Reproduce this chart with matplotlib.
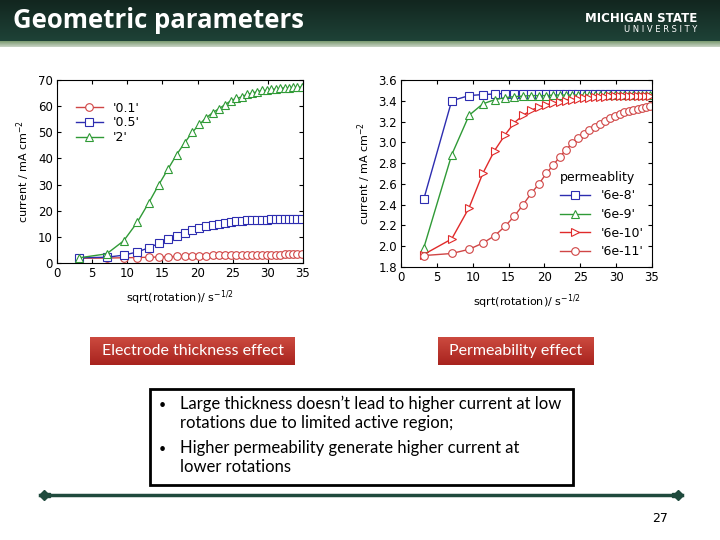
import matplotlib.pyplot as plt
import numpy as np
from matplotlib.patches import Rectangle
from matplotlib.colors import LinearSegmentedColormap

# sqrt(rotation) sample positions
x_pts = [3.16, 7.07, 9.49, 11.40, 13.04, 14.49, 15.81, 17.03, 18.17, 19.24,
         20.25, 21.21, 22.14, 23.02, 23.87, 24.70, 25.50, 26.27, 27.02, 27.75,
         28.46, 29.15, 29.83, 30.50, 31.14, 31.78, 32.40, 33.02, 33.62, 34.21, 34.79]

# electrode thickness series (mA cm^-2)
thick_labels = ["'0.1'", "'0.5'", "'2'"]
thick_01 = [1.8, 1.9, 2.0, 2.1, 2.2, 2.3, 2.4, 2.5, 2.6, 2.7,
            2.8, 2.85, 2.9, 2.95, 3.0, 3.05, 3.1, 3.1, 3.15, 3.15,
            3.2, 3.2, 3.2, 3.25, 3.25, 3.25, 3.3, 3.3, 3.3, 3.3, 3.3]
thick_05 = [2.0, 2.2, 3.0, 4.2, 5.8, 7.5, 9.0, 10.3, 11.5, 12.5,
            13.3, 14.0, 14.5, 15.0, 15.4, 15.7, 16.0, 16.2, 16.3, 16.4,
            16.5, 16.6, 16.6, 16.7, 16.7, 16.7, 16.8, 16.8, 16.8, 16.8, 16.8]
thick_2 = [2.0, 3.5, 8.5, 15.5, 23.0, 30.0, 36.0, 41.5, 46.0, 50.0,
           53.0, 55.5, 57.5, 59.0, 60.5, 62.0, 63.0, 63.5, 64.5, 65.0,
           65.5, 66.0, 66.0, 66.5, 66.5, 66.8, 67.0, 67.0, 67.2, 67.3, 67.3]

# permeability series (mA cm^-2)
perm_labels = ["'6e-8'", "'6e-9'", "'6e-10'", "'6e-11'"]
perm_6e8 = [2.45, 3.40, 3.45, 3.46, 3.465, 3.47, 3.47, 3.47, 3.47, 3.47,
            3.47, 3.47, 3.47, 3.47, 3.47, 3.47, 3.47, 3.47, 3.47, 3.47,
            3.47, 3.47, 3.47, 3.47, 3.47, 3.47, 3.47, 3.47, 3.47, 3.47, 3.47]
perm_6e9 = [1.98, 2.88, 3.26, 3.37, 3.41, 3.43, 3.44, 3.445, 3.45, 3.45,
            3.45, 3.455, 3.455, 3.455, 3.455, 3.455, 3.455, 3.455, 3.455, 3.455,
            3.455, 3.455, 3.455, 3.455, 3.455, 3.455, 3.455, 3.455, 3.455, 3.455, 3.455]
perm_6e10 = [1.92, 2.07, 2.37, 2.70, 2.92, 3.07, 3.19, 3.26, 3.31, 3.34,
             3.36, 3.38, 3.39, 3.40, 3.41, 3.42, 3.425, 3.43, 3.435, 3.44,
             3.44, 3.445, 3.445, 3.445, 3.45, 3.45, 3.45, 3.45, 3.45, 3.45, 3.45]
perm_6e11 = [1.91, 1.93, 1.97, 2.03, 2.10, 2.19, 2.29, 2.40, 2.51, 2.60,
             2.70, 2.78, 2.86, 2.93, 2.99, 3.04, 3.08, 3.12, 3.15, 3.18,
             3.21, 3.23, 3.25, 3.27, 3.29, 3.30, 3.31, 3.32, 3.33, 3.34, 3.35]

title = "Geometric parameters"
box_left = "Electrode thickness effect"
box_right = "Permeability effect"
bullets = ["Large thickness doesn\u2019t lead to higher current at low\nrotations due to limited active region;",
           "Higher permeability generate higher current at\nlower rotations"]

W, H = 720, 540
fig = plt.figure(figsize=(7.2, 5.4), dpi=100)
fig.patch.set_facecolor('white')


def px(x0, y0, x1, y1):
    # pixel box (top-left origin) -> figure fraction rect
    return [x0 / W, 1 - y1 / H, (x1 - x0) / W, (y1 - y0) / H]


def grad_axes(rect, c0, c1):
    a = fig.add_axes(rect)
    a.imshow(np.linspace(0, 1, 50).reshape(-1, 1), aspect='auto',
             cmap=LinearSegmentedColormap.from_list('g', [c0, c1]), extent=[0, 1, 0, 1])
    a.set_xticks([])
    a.set_yticks([])
    for s in a.spines.values():
        s.set_visible(False)
    return a


# header band
grad_axes(px(0, 0, 720, 41), '#12261f', '#1e4237')
grad_axes(px(0, 41, 720, 47), '#7a9a70', '#c9d4c6')
fig.text(13 / W, 1 - 21 / H, title, color='white', fontsize=18.5, fontweight='bold',
         family='Open Sans', va='center', ha='left')
fig.text(697 / W, 1 - 18 / H, "MICHIGAN STATE", color='white', fontsize=8.5, fontweight='bold',
         family='Liberation Sans Narrow', va='center', ha='right')
fig.text(697 / W, 1 - 30 / H, "U N I V E R S I T Y", color='white', fontsize=6,
         family='DejaVu Sans', va='center', ha='right')


def style_axes(ax):
    ax.tick_params(direction='in', top=True, right=True, length=3, width=0.8,
                   labelsize=8.5, pad=3)
    for s in ax.spines.values():
        s.set_linewidth(0.8)
    ax.set_xlim(0, 35)
    ax.set_xticks([0, 5, 10, 15, 20, 25, 30, 35])
    ax.set_xlabel("sqrt(rotation)/ s$^{-1/2}$", fontsize=8, labelpad=6)
    ax.set_ylabel("current / mA cm$^{-2}$", fontsize=8, labelpad=4)


red = '#d04545'
blue = '#2d2db0'
green = '#2f9a36'
mk = dict(markerfacecolor='white', markersize=5.5, markeredgewidth=0.8, linewidth=1)

ax1 = fig.add_axes(px(57, 80, 303, 263))
ax1.plot(x_pts, thick_01, '-o', color=red, label=thick_labels[0], **mk)
ax1.plot(x_pts, thick_05, '-s', color=blue, label=thick_labels[1], **mk)
ax1.plot(x_pts, thick_2, '-^', color=green, label=thick_labels[2], **mk)
ax1.set_ylim(0, 70)
ax1.set_yticks(range(0, 71, 10))
style_axes(ax1)
ax1.legend(loc='upper left', bbox_to_anchor=(0.04, 0.93), frameon=False, fontsize=9,
           handlelength=2.2, labelspacing=0.15, borderpad=0.2)

ax2 = fig.add_axes(px(401, 80, 652, 267))
ax2.plot(x_pts, perm_6e8, '-s', color=blue, label=perm_labels[0], **mk)
ax2.plot(x_pts, perm_6e9, '-^', color=green, label=perm_labels[1], **mk)
ax2.plot(x_pts, perm_6e10, '->', color='#e02a2a', label=perm_labels[2], **mk)
ax2.plot(x_pts, perm_6e11, '-o', color=red, label=perm_labels[3], **mk)
ax2.set_ylim(1.8, 3.6)
ax2.set_yticks(np.arange(1.8, 3.61, 0.2))
ax2.yaxis.set_major_formatter(plt.FormatStrFormatter('%.1f'))
style_axes(ax2)
ax2.legend(loc='lower right', bbox_to_anchor=(1.0, 0.0), frameon=False, fontsize=9,
           title='permeablity', title_fontsize=9, handlelength=2.4,
           labelspacing=0.45, borderpad=0.2, alignment='left')

# red labels under the charts
for (x0, x1, txt, fs) in [(90, 295, box_left, 11.5), (438, 593, box_right, 11.5)]:
    bx = grad_axes(px(x0, 337, x1, 365), '#cc4a3f', '#a8231e')
    bx.text(0.5, 0.5, txt, color='white', fontsize=fs, family='Lato',
            ha='center', va='center', transform=bx.transAxes)

# bullet text box
fig.patches.append(Rectangle((150 / W, 1 - 485 / H), 423 / W, 96 / H, transform=fig.transFigure,
                             facecolor='white', edgecolor='black', linewidth=2))
ys = [405, 449]
for y, b in zip(ys, bullets):
    fig.text(159 / W, 1 - y / H, "\u2022", fontsize=9, family='Lato', va='center')
    fig.text(180 / W, 1 - (y - 9) / H, b, fontsize=12, family='Lato', va='top',
             linespacing=1.2)

# footer line with diamond ends
line_ax = fig.add_axes([0, 0, 1, 1], facecolor='none')
line_ax.set_xlim(0, W)
line_ax.set_ylim(H, 0)
line_ax.axis('off')
line_ax.plot([40, 682], [495, 495], color='#1f4a3d', linewidth=2.5)
line_ax.plot([44, 678], [495, 495], 'D', color='#1f4a3d', markersize=5)
line_ax.plot([48, 674], [495, 495], 's', color='#1f4a3d', markersize=3)
line_ax.text(660, 519, "27", fontsize=9, family='Liberation Sans Narrow', ha='center', va='center')

fig.savefig('out.png', dpi=100)
